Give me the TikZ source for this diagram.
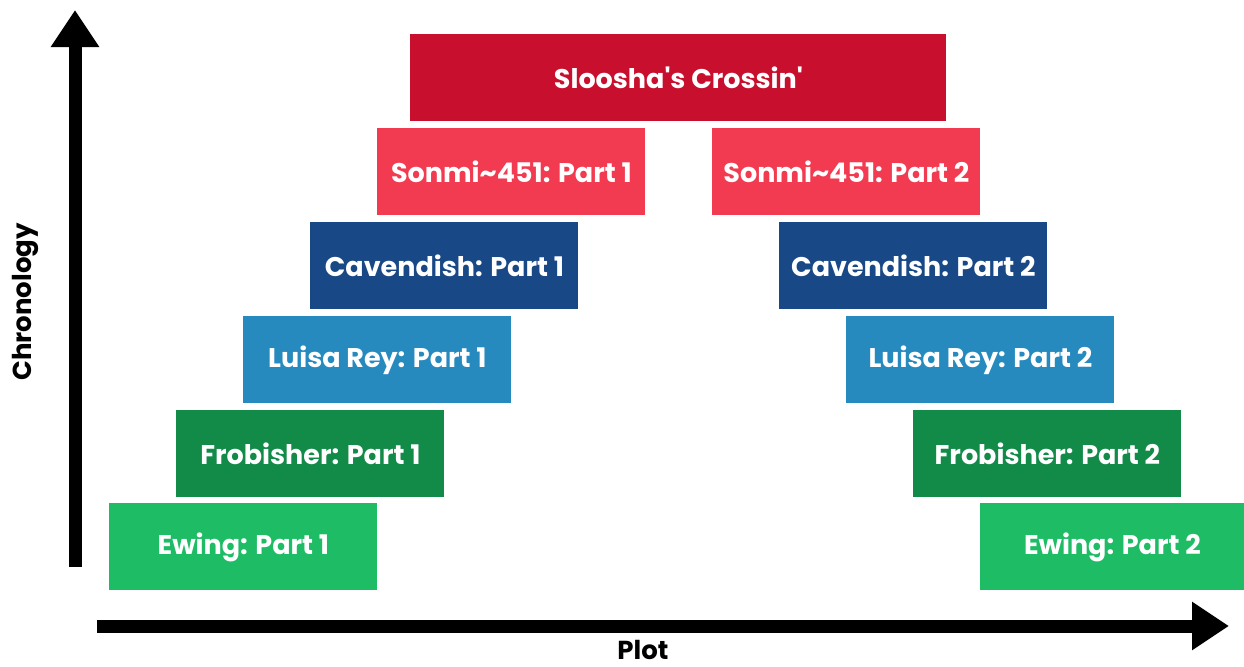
\documentclass[tikz,border=0pt]{standalone}
\usepackage{fontspec}
\setmainfont{Poppins}[Ligatures=TeXOff]
\usetikzlibrary{arrows.meta}
\definecolor{cSloosha}{HTML}{C8102E}
\definecolor{cSonmi}{HTML}{F23A50}
\definecolor{cCav}{HTML}{184885}
\definecolor{cLuisa}{HTML}{268ABF}
\definecolor{cFrob}{HTML}{128A48}
\definecolor{cEwing}{HTML}{1FBC66}
\tikzset{
  part/.style={fill=#1, draw=none, minimum width=134pt, minimum height=43.5pt,
    inner sep=0pt, text=white, font=\fontsize{13.5}{15}\selectfont\bfseries, anchor=north west},
  axisarrow/.style={line width=6.5pt, -{Triangle[width=23pt,length=18.5pt]}},
  axislabel/.style={font=\fontsize{13}{15}\selectfont\bfseries, text=black, inner sep=0pt}
}
\begin{document}
\begin{tikzpicture}[x=0.5pt,y=-0.5pt]
\useasboundingbox (0,0) rectangle (1244,666);
\node[part=cSloosha, minimum width=268pt] (sl) at (410,34) {Sloosha's Crossin'};
\node[part=cSonmi] (so1) at (377,128) {Sonmi\textasciitilde451: Part 1};
\node[part=cSonmi] (so2) at (712,128) {Sonmi\textasciitilde451: Part 2};
\node[part=cCav] (ca1) at (310,222) {Cavendish: Part 1};
\node[part=cCav] (ca2) at (779,222) {Cavendish: Part 2};
\node[part=cLuisa] (lu1) at (243,316) {Luisa Rey: Part 1};
\node[part=cLuisa] (lu2) at (846,316) {Luisa Rey: Part 2};
\node[part=cFrob] (fr1) at (176,410) {Frobisher: Part 1};
\node[part=cFrob] (fr2) at (913,410) {Frobisher: Part 2};
\node[part=cEwing] (ew1) at (109,503) {Ewing: Part 1};
\node[part=cEwing, minimum width=132pt] (ew2) at (980,503) {Ewing: Part 2};
\coordinate (vs) at (75,567);
\coordinate (ve) at (75,10);
\coordinate (hs) at (97,626);
\coordinate (he) at (1229,626);
\draw[axisarrow] (vs) -- (ve);
\draw[axisarrow] (hs) -- (he);
\node[axislabel, rotate=90] (chron) at (25,302) {Chronology};
\node[axislabel] (plot) at (643,650) {Plot};
\end{tikzpicture}
\end{document}
